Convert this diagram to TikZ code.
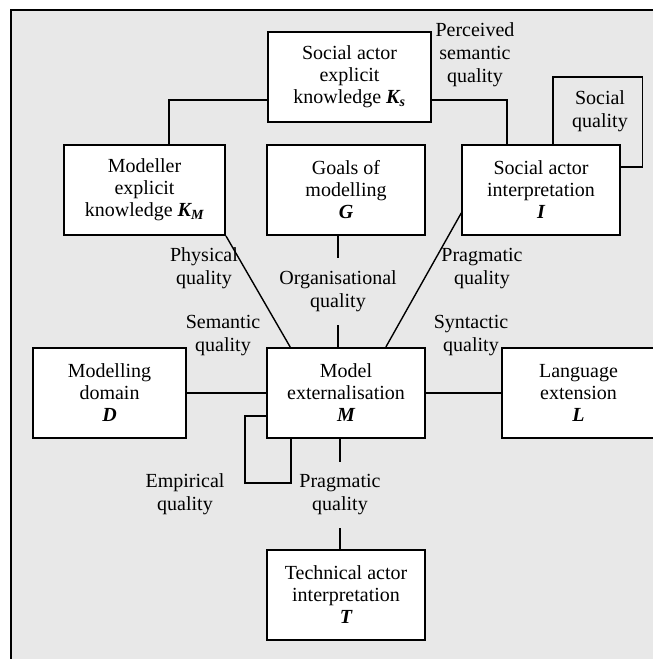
\documentclass[tikz,border=0pt]{standalone}
\usepackage{fontspec}
\setmainfont{Liberation Serif}
\usetikzlibrary{calc}
\definecolor{panel}{HTML}{E8E8E8}
\newcommand{\sym}[1]{{\bfseries\itshape #1}}
\begin{document}
\begin{tikzpicture}[x=1pt,y=-1pt,
  box/.style={draw, fill=white, line width=2pt, minimum height=90pt,
    inner sep=0pt, align=center, font=\fontsize{20}{22}\selectfont},
  lbl/.style={align=center, inner sep=0pt, font=\fontsize{20}{23}\selectfont},
  conn/.style={line width=1.4pt}]
\useasboundingbox (0,0) rectangle (653,659);
% panel
\draw[fill=panel, line width=1.5pt] (11,10) rectangle (690,700);

% boxes
\node[box, minimum width=163pt]   (Ks) at (349.5,77) {Social actor\\explicit\\knowledge \sym{K\textsubscript{s}}};
\node[box, minimum width=161pt]   (KM) at (144.5,190) {Modeller\\explicit\\knowledge \sym{K\textsubscript{M}}};
\node[box, minimum width=157.5pt] (G)  at (346,190) {Goals of\\modelling\\\sym{G}};
\node[box, minimum width=157.5pt] (I)  at (541,190) {Social actor\\interpretation\\\sym{I}};
\node[box, minimum width=153pt]   (D)  at (109.5,393) {Modelling\\domain\\\sym{D}};
\node[box, minimum width=157.5pt] (M)  at (346,393) {Model\\externalisation\\\sym{M}};
\node[box, minimum width=153pt]   (L)  at (578.5,393) {Language\\extension\\\sym{L}};
\node[box, minimum width=157.5pt] (T)  at (346,595) {Technical actor\\interpretation\\\sym{T}};

% quality labels
\node[lbl] (pq)  at (475,55)    {Perceived\\semantic\\quality};
\node[lbl] (sq)  at (600,111)   {Social\\quality};
\node[lbl] (phq) at (204,268.5) {Physical\\quality};
\node[lbl, minimum height=67pt] (oq) at (338,291.5) {Organisational\\quality};
\node[lbl] (prq) at (482,268.5) {Pragmatic\\quality};
\node[lbl] (seq) at (223,335.5) {Semantic\\quality};
\node[lbl] (syq) at (471,335.5) {Syntactic\\quality};
\node[lbl] (emq) at (185,494.5) {Empirical\\quality};
\node[lbl, minimum height=66pt] (tq) at (340,495) {Pragmatic\\quality};

% connectors
\coordinate (ksL) at ($(Ks.west)!0.5!(Ks.south west)$);
\coordinate (ksR) at ($(Ks.east)!0.5!(Ks.south east)$);
\draw[conn] (ksL) -| ($(KM.north west)!0.65!(KM.north east)$);
\draw[conn] (ksR) -| ($(I.north west)!0.286!(I.north east)$);

% social quality loop
\coordinate (sqTop) at (642.5,77);
\draw[conn] ($(I.north west)!0.575!(I.north east)$) |- (sqTop)
  |- ($(I.east)!0.5!(I.north east)$);

\draw[conn] (KM.south east) -- ($(M.north west)!0.15!(M.north east)$);
\draw[conn] ($(I.west)!0.5!(I.south west)$) -- ($(M.north west)!0.75!(M.north east)$);
\draw[conn] (oq.north) -- (oq.north |- G.south);
\draw[conn] (oq.south) -- (oq.south |- M.north);
\draw[conn] (D) -- (M);
\draw[conn] (M) -- (L);
\draw[conn] (tq.north) -- (tq.north |- M.south);
\draw[conn] (tq.south) -- (tq.south |- T.north);

% empirical quality loop
\coordinate (emCorner) at (245,483);
\draw[conn] ($(M.west)!0.5!(M.south west)$) -| (emCorner)
  -| ($(M.south west)!0.156!(M.south east)$);
\end{tikzpicture}
\end{document}
